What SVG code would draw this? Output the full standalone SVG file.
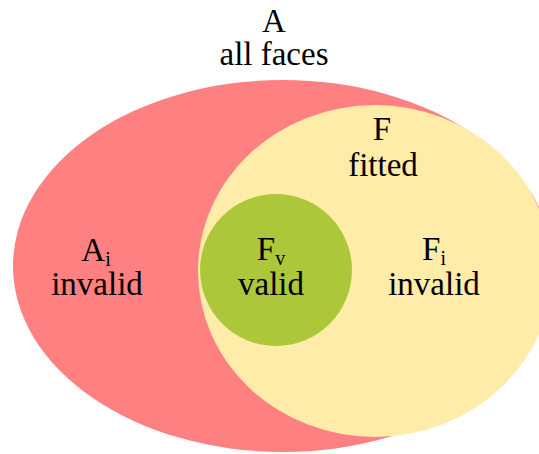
<svg xmlns="http://www.w3.org/2000/svg" width="539" height="454" viewBox="0 0 539 454">
  <style>
    text { font-family: "Liberation Serif", "Times New Roman", serif; font-size: 33px; fill: #000; text-anchor: middle; }
    .sub { font-size: 20px; }
  </style>
  <rect width="539" height="454" fill="#ffffff"/>
  <g id="A">
    <ellipse cx="283" cy="266" rx="270" ry="186" fill="#ff8080"/>
    <text x="274" y="32">A</text>
    <text x="274" y="65">all faces</text>
  </g>
  <g id="F">
    <ellipse cx="375" cy="271" rx="177" ry="166" fill="#ffeca8"/>
    <text x="382" y="140">F</text>
    <text x="383" y="176">fitted</text>
  </g>
  <g id="Ai">
    <text x="96" y="261">A<tspan class="sub" dy="5">i</tspan></text>
    <text x="97" y="295">invalid</text>
  </g>
  <g id="Fv">
    <circle cx="276" cy="270" r="76" fill="#acc83a"/>
    <text x="271" y="260">F<tspan class="sub" dy="5">v</tspan></text>
    <text x="271" y="295">valid</text>
  </g>
  <g id="Fi">
    <text x="434" y="260">F<tspan class="sub" dy="5">i</tspan></text>
    <text x="434" y="295">invalid</text>
  </g>
  <g id="connectors"/>
</svg>
